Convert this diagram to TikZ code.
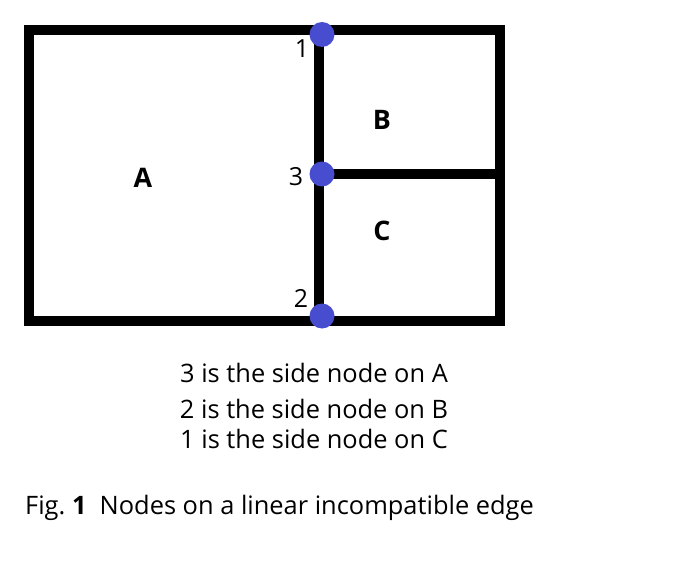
\documentclass[tikz,border=0pt]{standalone}
\usepackage{fontspec}
\setmainfont{Open Sans}
\definecolor{nodeblue}{RGB}{72,77,208}
\begin{document}
\begin{tikzpicture}[x=1bp,y=-1bp,
  wall/.style={line width=10bp, line cap=rect, line join=miter},
  sidenode/.style={circle, fill=nodeblue, inner sep=0pt, minimum size=25bp},
  region/.style={font=\fontsize{27}{31}\selectfont\bfseries, inner sep=0pt},
  numlabel/.style={font=\fontsize{25}{29}\selectfont, inner sep=0pt},
  note/.style={font=\fontsize{25.5}{30}\selectfont, inner sep=0pt}]
\useasboundingbox (0,0) rectangle (696,564);
% corners
\coordinate (tl) at (29,30);
\coordinate (tr) at (500,30);
\coordinate (br) at (500,321);
\coordinate (bl) at (29,321);
\coordinate (mt) at (319,30);
\coordinate (mb) at (319,321);
\coordinate (mm) at (319,174.5);
\coordinate (mr) at (500,174.5);
\draw[wall] (tl) rectangle (br);
\draw[wall] (mt) -- (mb);
\draw[wall] (mm) -- (mr);
\node[sidenode] (n1) at (322,34.5) {};
\node[sidenode] (n3) at (322,174) {};
\node[sidenode] (n2) at (322,316) {};
\node[numlabel] (l1) at (302,48.5) {1};
\node[numlabel] (l3) at (296,177) {3};
\node[numlabel] (l2) at (301,298) {2};
\node[region] (A) at (143,178) {A};
\node[region] (B) at (382,120) {B};
\node[region] (C) at (382,231) {C};
\node[note] (t1) at (314,373) {3 is the side node on A};
\node[note] (t2) at (314,409) {2 is the side node on B};
\node[note] (t3) at (314,439) {1 is the side node on C};
\node[note, anchor=west] (cap) at (25,507.5) {Fig.\ \textbf{1}\ \ Nodes on a linear incompatible edge};
\end{tikzpicture}
\end{document}
